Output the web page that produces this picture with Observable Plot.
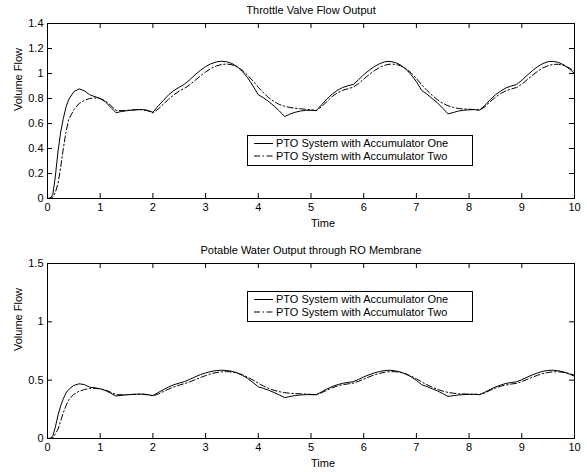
<!DOCTYPE html>
<html>
<head>
<meta charset="utf-8">
<script src="https://cdn.jsdelivr.net/npm/d3@7"></script>
<script src="https://cdn.jsdelivr.net/npm/@observablehq/plot@0.6"></script>
<style>
  html, body { margin: 0; padding: 0; background: white; }
  #wrap { position: relative; width: 587px; height: 472px; font-family: "Liberation Sans", Arial, Helvetica, sans-serif; }
  .legend { position: absolute; background: white; }
</style>
</head>
<body>
<div id="wrap"></div>
<script>
// ---- data ----
const time = [0,0.05,0.1,0.15,0.2,0.25,0.3,0.35,0.4,0.5,0.6,0.7,0.8,0.9,1.0,1.1,1.2,1.3,1.4,1.5,1.6,1.7,1.8,1.9,2.0,
  2.1,2.2,2.3,2.4,2.5,2.6,2.7,2.8,2.9,3.0,3.1,3.2,3.3,3.4,3.5,3.6,3.7,3.8,3.9,4.0,
  4.1,4.2,4.3,4.4,4.5,4.6,4.7,4.8,4.9,5.0,5.1,5.2,5.3,5.4,5.5,5.6,5.7,5.8,5.9,6.0,
  6.1,6.2,6.3,6.4,6.5,6.6,6.7,6.8,6.9,7.0,7.1,7.2,7.3,7.4,7.5,7.6,7.7,7.8,7.9,8.0,
  8.1,8.2,8.3,8.4,8.5,8.6,8.7,8.8,8.9,9.0,9.1,9.2,9.3,9.4,9.5,9.6,9.7,9.8,9.9,10.0];

const throttleOne = [0,0.005,0.03,0.18,0.38,0.53,0.64,0.73,0.79,0.855,0.877,0.862,0.830,0.815,0.800,0.772,0.730,0.686,0.696,0.702,0.707,0.711,0.712,0.705,0.690,
  0.740,0.785,0.830,0.865,0.890,0.915,0.950,0.990,1.025,1.055,1.078,1.092,1.098,1.094,1.080,1.055,1.015,0.965,0.900,0.830,
  0.805,0.775,0.740,0.700,0.656,0.675,0.690,0.700,0.705,0.706,0.703,0.750,0.795,0.835,0.865,0.888,0.902,0.912,0.950,0.990,
  1.025,1.055,1.078,1.094,1.097,1.088,1.068,1.035,0.990,0.935,0.865,0.835,0.800,0.765,0.722,0.677,0.688,0.700,0.706,0.710,
  0.711,0.708,0.745,0.790,0.830,0.860,0.885,0.900,0.912,0.945,0.985,1.022,1.055,1.080,1.095,1.097,1.088,1.068,1.038,1.000];

const throttleTwo = [0,0,0.01,0.05,0.12,0.25,0.40,0.53,0.63,0.71,0.76,0.785,0.800,0.805,0.800,0.780,0.745,0.705,0.703,0.705,0.708,0.710,0.710,0.702,0.685,
  0.715,0.755,0.795,0.830,0.860,0.882,0.910,0.945,0.980,1.012,1.040,1.060,1.072,1.076,1.070,1.052,1.025,0.985,0.940,0.890,
  0.845,0.805,0.775,0.752,0.738,0.728,0.722,0.718,0.714,0.710,0.703,0.735,0.775,0.815,0.845,0.865,0.878,0.890,0.920,0.955,
  0.990,1.022,1.048,1.066,1.075,1.074,1.062,1.040,1.005,0.960,0.910,0.865,0.825,0.790,0.762,0.742,0.728,0.720,0.716,0.714,
  0.712,0.706,0.735,0.775,0.810,0.840,0.862,0.876,0.888,0.915,0.950,0.985,1.018,1.045,1.063,1.073,1.074,1.064,1.045,1.018];

const waterOne = [0,0.003,0.02,0.10,0.20,0.28,0.34,0.39,0.42,0.455,0.469,0.462,0.440,0.434,0.426,0.411,0.388,0.364,0.370,0.374,0.377,0.380,0.381,0.377,0.368,
  0.394,0.418,0.442,0.461,0.475,0.488,0.507,0.528,0.547,0.562,0.574,0.582,0.585,0.583,0.576,0.562,0.541,0.514,0.480,0.443,
  0.429,0.413,0.394,0.373,0.350,0.360,0.368,0.373,0.376,0.376,0.375,0.400,0.424,0.445,0.461,0.473,0.481,0.486,0.506,0.528,
  0.546,0.562,0.574,0.583,0.585,0.580,0.569,0.552,0.528,0.498,0.461,0.445,0.426,0.408,0.385,0.361,0.367,0.373,0.376,0.378,
  0.379,0.377,0.397,0.421,0.442,0.458,0.472,0.480,0.486,0.504,0.525,0.545,0.562,0.576,0.584,0.585,0.580,0.569,0.553,0.533];

const waterTwo = [0,0,0.005,0.04,0.08,0.15,0.22,0.28,0.33,0.38,0.405,0.420,0.428,0.430,0.426,0.415,0.397,0.376,0.375,0.376,0.378,0.379,0.379,0.374,0.365,
  0.381,0.402,0.424,0.442,0.458,0.470,0.485,0.504,0.522,0.539,0.554,0.565,0.571,0.573,0.570,0.561,0.546,0.525,0.501,0.474,
  0.450,0.429,0.413,0.401,0.393,0.388,0.385,0.383,0.381,0.378,0.375,0.392,0.413,0.434,0.450,0.461,0.468,0.474,0.490,0.509,
  0.528,0.545,0.558,0.568,0.573,0.572,0.566,0.554,0.535,0.512,0.485,0.461,0.440,0.421,0.406,0.395,0.388,0.384,0.382,0.380,
  0.379,0.376,0.392,0.413,0.432,0.448,0.459,0.467,0.473,0.488,0.506,0.525,0.542,0.557,0.566,0.572,0.572,0.567,0.557,0.543];

const xTicks = [0,1,2,3,4,5,6,7,8,9,10];
const yTicksTop = [0,0.2,0.4,0.6,0.8,1,1.2,1.4];
const yTicksBottom = [0,0.5,1,1.5];
const seriesNames = ["PTO System with Accumulator One", "PTO System with Accumulator Two"];
const titles = ["Throttle Valve Flow Output", "Potable Water Output through RO Membrane"];
const xLabel = "Time";
const yLabel = "Volume Flow";

// ---- drawing ----
const FONT = '"Liberation Sans", Arial, Helvetica, sans-serif';
const DASH = "6,2.5,1.5,2.5";
const W = 587, H = 236, ML = 47, MR = 13;
const frameW = W - ML - MR;

function rows(a, b) {
  return time.map((t, i) => ({t, one: a[i], two: b[i]}));
}

function makePlot({data, yDomain, yTicks, title, mt, mb}) {
  const frameH = H - mt - mb;
  return Plot.plot({
    width: W, height: H,
    marginLeft: ML, marginRight: MR, marginTop: mt, marginBottom: mb,
    style: {fontFamily: FONT, fontSize: "11px", background: "white", color: "black", overflow: "visible"},
    x: {domain: [0, 10]},
    y: {domain: yDomain},
    marks: [
      Plot.lineY(data, {x: "t", y: "two", stroke: "black", strokeWidth: 1, strokeDasharray: DASH}),
      Plot.lineY(data, {x: "t", y: "one", stroke: "black", strokeWidth: 1}),
      Plot.frame({stroke: "black", strokeWidth: 1}),
      // inward ticks on all four sides
      Plot.tickX(xTicks, {x: d => d, stroke: "black", insetTop: frameH - 5}),
      Plot.tickX(xTicks, {x: d => d, stroke: "black", insetBottom: frameH - 5}),
      Plot.tickY(yTicks, {y: d => d, stroke: "black", insetRight: frameW - 5}),
      Plot.tickY(yTicks, {y: d => d, stroke: "black", insetLeft: frameW - 5}),
      Plot.axisX(xTicks, {tickSize: 0, tickPadding: 5, label: null, fontSize: 11}),
      Plot.axisY(yTicks, {tickSize: 0, tickPadding: 4, label: null, fontSize: 11, tickFormat: d => String(d)}),
      Plot.text([title], {frameAnchor: "top", dy: -13, lineAnchor: "middle", fontSize: 11}),
      Plot.text([xLabel], {frameAnchor: "bottom", dx: 12, dy: 25, lineAnchor: "middle", fontSize: 11}),
      Plot.text([yLabel], {frameAnchor: "left", dx: -29, rotate: -90, lineAnchor: "middle", fontSize: 11})
    ]
  });
}

const wrap = document.getElementById("wrap");
const p1 = makePlot({data: rows(throttleOne, throttleTwo), yDomain: [0, 1.4], yTicks: yTicksTop, title: titles[0], mt: 23, mb: 38});
const p2 = makePlot({data: rows(waterOne, waterTwo), yDomain: [0, 1.5], yTicks: yTicksBottom, title: titles[1], mt: 27, mb: 34});
p1.style.display = "block"; p2.style.display = "block";
wrap.appendChild(p1);
wrap.appendChild(p2);

function legend(left, top) {
  const div = document.createElement("div");
  div.className = "legend";
  div.style.left = left + "px";
  div.style.top = top + "px";
  const svg = d3.create("svg").attr("width", 226).attr("height", 31)
    .style("display", "block").style("font-family", FONT).style("font-size", "11px");
  svg.append("rect").attr("x", 0.5).attr("y", 0.5).attr("width", 225).attr("height", 30)
    .attr("fill", "white").attr("stroke", "black").attr("stroke-width", 1);
  const ys = [8.5, 21];
  seriesNames.forEach((name, i) => {
    svg.append("line").attr("x1", 7).attr("x2", 26).attr("y1", ys[i]).attr("y2", ys[i])
      .attr("stroke", "black").attr("stroke-width", 1)
      .attr("stroke-dasharray", i === 1 ? DASH : null);
    svg.append("text").attr("x", 29).attr("y", ys[i]).attr("dy", "0.35em").attr("fill", "black").text(name);
  });
  div.appendChild(svg.node());
  wrap.appendChild(div);
}
legend(247, 135);
legend(247, 291);
</script>
</body>
</html>
